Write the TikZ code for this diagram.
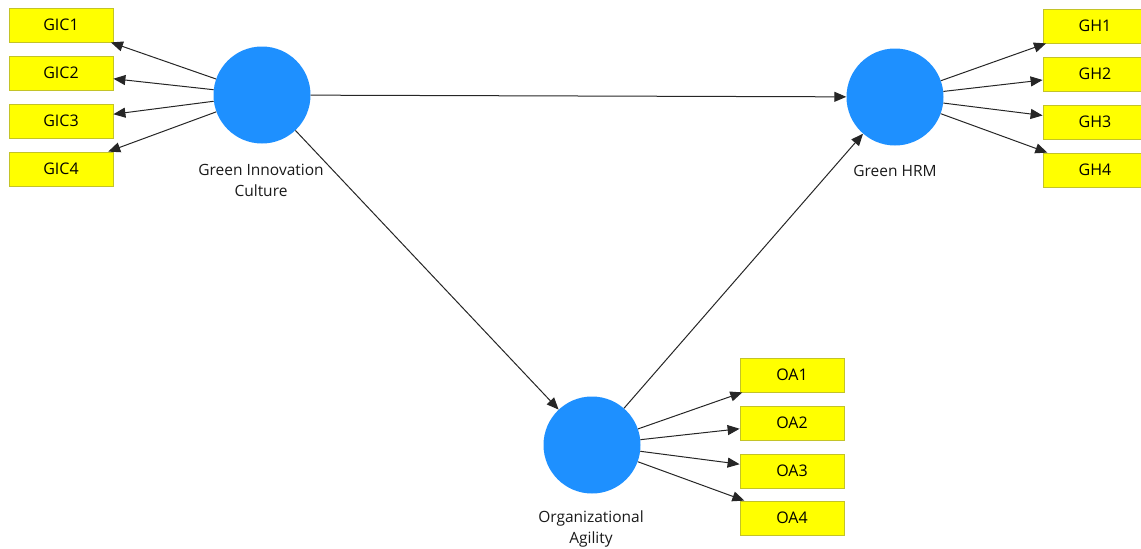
\documentclass[tikz,border=0pt]{standalone}
\usepackage{fontspec}
\setmainfont{Open Sans}
\usetikzlibrary{arrows.meta}
\definecolor{lvblue}{RGB}{30,144,255}
\definecolor{mvfill}{RGB}{255,255,0}
\definecolor{mvborder}{RGB}{195,195,40}
\begin{document}
\begin{tikzpicture}[x=1pt,y=-1pt,
  lv/.style={circle,fill=lvblue,minimum size=97pt,inner sep=0pt},
  mv/.style={rectangle,fill=mvfill,draw=mvborder,line width=0.8pt,minimum width=104pt,minimum height=34pt,inner sep=0pt,font=\fontsize{16}{18}\selectfont,text=black},
  lbl/.style={align=center,font=\fontsize{15.5}{21}\selectfont,text=black!90},
  link/.style={draw=black!85,line width=1pt,-{Triangle[length=12pt,width=10pt]}}]
\useasboundingbox (0,0) rectangle (1141,549);
% latent variables
\node[lv] (gic) at (262,95) {};
\node[lv] (ghrm) at (895,97) {};
\node[lv] (oa) at (592,445) {};
% labels
\node[lbl] (gicl) at (261,180) {Green Innovation\\Culture};
\node[lbl] (ghrml) at (895,171) {Green HRM};
\node[lbl] (oal) at (591,529) {Organizational\\Agility};
% indicators
\node[mv] (gic1) at (61,25) {GIC1};
\node[mv] (gic2) at (61,73) {GIC2};
\node[mv] (gic3) at (61,121) {GIC3};
\node[mv] (gic4) at (61,169) {GIC4};
\node[mv] (gh1) at (1095,26) {GH1};
\node[mv] (gh2) at (1095,74) {GH2};
\node[mv] (gh3) at (1095,122) {GH3};
\node[mv] (gh4) at (1095,170) {GH4};
\node[mv] (oa1) at (792,375) {OA1};
\node[mv] (oa2) at (792,423) {OA2};
\node[mv] (oa3) at (792,471) {OA3};
\node[mv] (oa4) at (792,518) {OA4};
% structural paths
\draw[link] (gic) -- (ghrm);
\draw[link] (gic) -- (oa);
\draw[link] (oa) -- (ghrm);
% measurement paths
\foreach \i in {1,2,3,4}{
  \draw[link] (gic) -- (gic\i);
  \draw[link] (ghrm) -- (gh\i);
  \draw[link] (oa) -- (oa\i);
}
\end{tikzpicture}
\end{document}
